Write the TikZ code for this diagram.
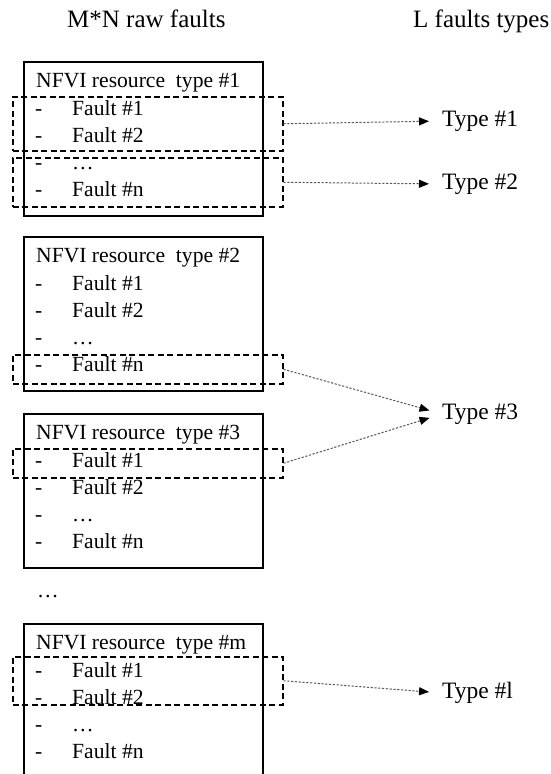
\documentclass[tikz,border=0pt]{standalone}
\usepackage{fontspec}
\setmainfont{Liberation Serif}
\usetikzlibrary{arrows.meta}
\begin{document}
\begin{tikzpicture}[x=1pt,y=-1pt,
  hdr/.style={anchor=base west, inner sep=0pt, font=\fontsize{25}{28}\selectfont},
  txt/.style={anchor=base west, inner sep=0pt, font=\fontsize{21.6}{24}\selectfont},
  typ/.style={anchor=west, inner sep=0pt, font=\fontsize{23.5}{26}\selectfont},
  resbox/.style={draw, line width=1.8pt, anchor=north west, inner sep=0pt, minimum width=239pt},
  grp/.style={draw, dash pattern=on 6pt off 3.5pt, line width=1.5pt, anchor=north west, inner sep=0pt, minimum width=270pt},
  map/.style={draw=black!65, line width=1pt, dash pattern=on 2.2pt off 1.6pt, -{Triangle[length=10pt,width=8pt,color=black,fill=black]}, shorten >=13pt}
]
\clip (0,0) rectangle (551,774);
\fill[white] (0,0) rectangle (551,774);

\node[hdr] (hleft) at (67,27) {M*N raw faults};
\node[hdr] (hright) at (413,27) {L faults types};

\node[resbox, minimum height=154pt] (b1) at (23,61) {};
\node[resbox, minimum height=154pt] (b2) at (23,236) {};
\node[resbox, minimum height=154pt] (b3) at (23,413) {};
\node[resbox, minimum height=170pt] (b4) at (23,623) {};

\foreach \b/\ty/\n in {1/61/1, 2/236/2, 3/413/3, 4/623/m} {
  \node[txt] (h\b) at (36,\ty+26) {NFVI resource\hspace{0.5em}type \#\n};
  \node[txt] (d\b a) at (35,\ty+54) {-};
  \node[txt] (f\b a) at (72,\ty+54) {Fault \#1};
  \node[txt] (d\b b) at (35,\ty+81) {-};
  \node[txt] (f\b b) at (72,\ty+81) {Fault \#2};
  \node[txt] (d\b c) at (35,\ty+108) {-};
  \node[txt] (f\b c) at (72,\ty+108) {…};
  \node[txt] (d\b d) at (35,\ty+135) {-};
  \node[txt] (f\b d) at (72,\ty+135) {Fault \#n};
}

\node[txt] (more) at (37,597) {…};

\node[grp, minimum height=54pt] (g1) at (12,96) {};
\node[grp, minimum height=49pt] (g2) at (12,157) {};
\node[grp, minimum height=29pt] (g3) at (12,354) {};
\node[grp, minimum height=29pt] (g4) at (12,448) {};
\node[grp, minimum height=48pt] (g5) at (12,656) {};

\node[typ] (t1) at (442,121) {Type \#1};
\node[typ] (t2) at (442,184) {Type \#2};
\node[typ] (t3) at (442,414) {Type \#3};
\node[typ] (tl) at (442,693) {Type \#l};

\draw[map] (g1.east) -- (t1.west);
\draw[map] (g2.east) -- (t2.west);
\draw[map] (g3.east) -- (t3.west);
\draw[map] (g4.east) -- (t3.west);
\draw[map] (g5.east) -- (tl.west);
\end{tikzpicture}
\end{document}
